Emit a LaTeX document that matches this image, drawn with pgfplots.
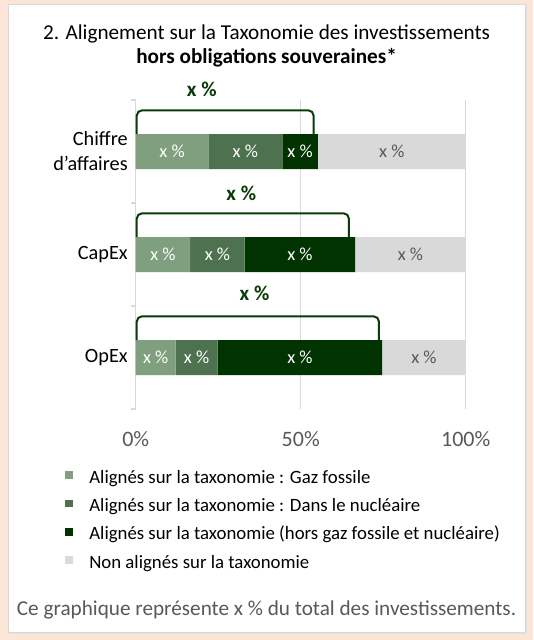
\documentclass[border=0pt]{standalone}
\usepackage{fontspec}
\setmainfont{Carlito}
\usepackage{pgfplots}
\pgfplotsset{compat=1.18}
\definecolor{peach}{HTML}{FBE5D6}
\definecolor{gas}{HTML}{7F9F7F}
\definecolor{nuc}{HTML}{4E7250}
\definecolor{hors}{HTML}{003300}
\definecolor{non}{HTML}{D9D9D9}
\definecolor{gridc}{HTML}{D9D9D9}
\definecolor{txtgray}{HTML}{595959}
\definecolor{brk}{HTML}{0B3B0B}
\pgfplotsset{sq legend/.style={legend image code/.code={\fill[##1] (0pt,0.1pt) rectangle (5.8pt,5.9pt); \path (18pt,0pt);}}}
\begin{document}
\begin{tikzpicture}
\fill[peach] (0,0) rectangle (399.75pt,-480pt);
\fill[black!12] (7.5pt,-4.5pt) rectangle (395.25pt,-475.5pt);
\filldraw[fill=white, draw=gridc, line width=0.75pt] (6pt,-3pt) rectangle (393.75pt,-474pt);
\node[anchor=base, font=\fontsize{15.9}{19}\selectfont] at (199.9pt,-29.25pt) {2. Alignement sur la Taxonomie des investissements};
\node[anchor=base, font=\fontsize{15.9}{19}\selectfont\bfseries] at (199.9pt,-47.8pt) {hors obligations souveraines*};
\node[anchor=base, font=\fontsize{15.9}{19}\selectfont, text=txtgray] at (199.9pt,-461.5pt) {Ce graphique représente x \% du total des investissements.};
\begin{axis}[
  at={(101.8pt,-306.75pt)}, anchor=south west,
  scale only axis, width=247.5pt, height=231.75pt,
  xbar stacked, bar width=26.25pt,
  xmin=0, xmax=100, ymin=-0.5, ymax=2.5, y dir=reverse,
  enlargelimits=false,
  axis line style={draw=none},
  xmajorgrids, grid style={draw=gridc, line width=1.1pt},
  xtick={0,50,100}, xticklabels={0\%,50\%,100\%},
  xticklabel style={anchor=center, yshift=-22.5pt, font=\fontsize{16.5}{20}\selectfont, text=txtgray},
  ytick={0,1,2}, yticklabels={{Chiffre\\d’affaires},CapEx,OpEx},
  yticklabel style={align=right, anchor=east, xshift=-2.5pt, font=\fontsize{15.2}{18.75}\selectfont, text=black},
  minor ytick={-0.5,0.5,1.5,2.5},
  ytick pos=left, xtick pos=bottom,
  tick align=outside,
  major tick length=0pt, minor tick length=3.75pt,
  minor tick style={draw=gridc, line width=1.1pt},
  xtick style={draw=none},
  legend style={at={(axis description cs:-0.2142,-0.199)}, anchor=north west, draw=none, fill=none, inner sep=0pt, row sep=8.7pt, font=\fontsize{14.1}{16}\selectfont, nodes={inner sep=0pt, text height=9.5pt, text depth=3pt}},
  legend cell align=left,
]
\addplot[fill=gas, draw=none, sq legend] coordinates {(22,0) (16.5,1) (12.1,2)};
\addplot[fill=nuc, draw=none, sq legend] coordinates {(22.4,0) (16.5,1) (12.7,2)};
\addplot[fill=hors, draw=none, sq legend] coordinates {(10.8,0) (33.5,1) (49.9,2)};
\addplot[fill=non, draw=none, sq legend] coordinates {(44.8,0) (33.5,1) (25.3,2)};
\legend{Alignés sur la taxonomie : Gaz fossile, Alignés sur la taxonomie : Dans le nucléaire, Alignés sur la taxonomie (hors gaz fossile et nucléaire), Non alignés sur la taxonomie}
\end{axis}
\begin{axis}[
  at={(101.8pt,-306.75pt)}, anchor=south west,
  scale only axis, width=247.5pt, height=231.75pt,
  xmin=0, xmax=100, ymin=-0.5, ymax=2.5, y dir=reverse,
  hide axis, clip=false,
]
\addplot[draw=brk, line width=1.5pt, rounded corners=4pt, sharp plot, mark=none] coordinates {(0.3,-0.17) (0.3,-0.40) (53.9,-0.40) (53.9,-0.17)};
\addplot[draw=brk, line width=1.5pt, rounded corners=4pt, sharp plot, mark=none] coordinates {(0.3,0.83) (0.3,0.60) (64.6,0.60) (64.6,0.83)};
\addplot[draw=brk, line width=1.5pt, rounded corners=4pt, sharp plot, mark=none] coordinates {(0.3,1.83) (0.3,1.60) (73.7,1.60) (73.7,1.83)};
\begin{scope}[every node/.style={font=\fontsize{15.75}{19}\selectfont\bfseries, text=brk}]
\node at (axis cs:20,-0.6) {x \%};
\node at (axis cs:32,0.41) {x \%};
\node at (axis cs:36,1.38) {x \%};
\end{scope}
\begin{scope}[every node/.style={font=\fontsize{13.8}{16}\selectfont, text=white}]
\node at (axis cs:11,0) {x \%};
\node at (axis cs:33.2,0) {x \%};
\node at (axis cs:49.8,0) {x \%};
\node[text=txtgray] at (axis cs:77.6,0) {x \%};
\node at (axis cs:8.25,1) {x \%};
\node at (axis cs:24.75,1) {x \%};
\node at (axis cs:49.75,1) {x \%};
\node[text=txtgray] at (axis cs:83.25,1) {x \%};
\node at (axis cs:6.05,2) {x \%};
\node at (axis cs:18.45,2) {x \%};
\node at (axis cs:49.75,2) {x \%};
\node[text=txtgray] at (axis cs:87.35,2) {x \%};
\end{scope}
\end{axis}
\pgfresetboundingbox
\path[use as bounding box] (0,0) rectangle (399.75pt,-480pt);
\end{tikzpicture}
\end{document}
